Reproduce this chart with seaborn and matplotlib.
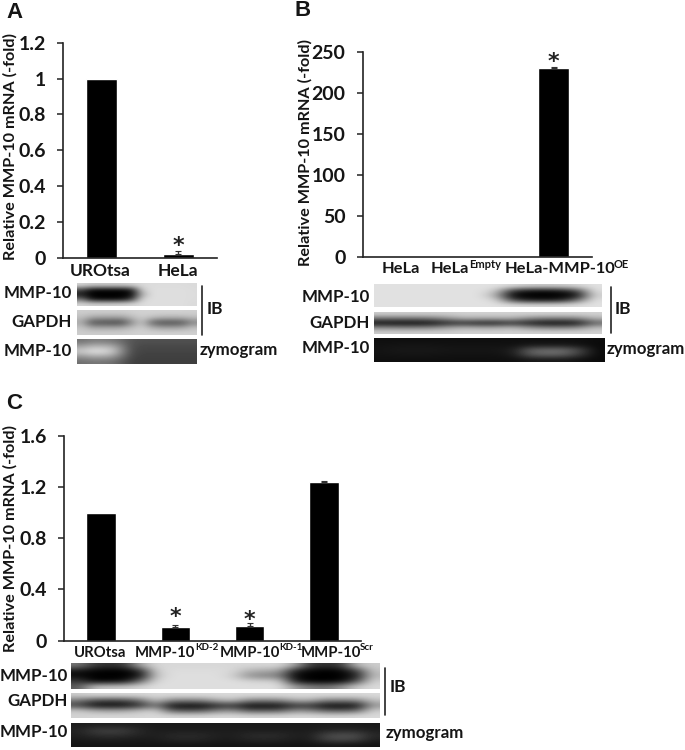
import matplotlib
matplotlib.use("Agg")
import matplotlib.pyplot as plt
import matplotlib.transforms as mtrans
import numpy as np
import seaborn as sns

# panel A
a_labels = ["UROtsa", "HeLa"]
a_values = [1.0, 0.02]
a_errors = [0.0, 0.02]
a_ticks = [0, 0.2, 0.4, 0.6, 0.8, 1, 1.2]
a_ticklabels = ["0", "0.2", "0.4", "0.6", "0.8", "1", "1.2"]

# panel B
b_labels = ["HeLa", "HeLa", "HeLa-MMP-10"]
b_supers = ["", "Empty", "OE"]
b_values = [0, 0, 230]
b_errors = [0, 0, 1.0]
b_ticks = [0, 50, 100, 150, 200, 250]

# panel C
c_labels = ["UROtsa", "MMP-10", "MMP-10", "MMP-10"]
c_supers = ["", "KD-2", "KD-1", "Scr"]
c_values = [1.0, 0.105, 0.115, 1.24]
c_errors = [0.0, 0.018, 0.022, 0.01]
c_ticks = [0, 0.4, 0.8, 1.2, 1.6]
c_ticklabels = ["0", "0.4", "0.8", "1.2", "1.6"]

# blot grey levels (rows top to bottom, 0 black, 255 white)
a_mmp = [[215, 205, 205, 205, 205, 210, 218, 220, 220, 220, 220, 218],
         [70, 10, 5, 5, 5, 30, 200, 222, 222, 222, 222, 220],
         [25, 0, 0, 0, 0, 10, 170, 222, 222, 222, 222, 220],
         [110, 15, 5, 5, 10, 60, 210, 222, 222, 222, 222, 220],
         [215, 210, 210, 210, 212, 215, 220, 222, 222, 222, 222, 218]]
a_gapdh = [[205, 205, 205, 205, 205, 208, 210, 210, 210, 210, 210, 208],
           [190, 165, 160, 160, 160, 185, 205, 190, 180, 180, 180, 190],
           [170, 80, 75, 70, 70, 140, 195, 100, 75, 75, 80, 130],
           [195, 165, 165, 165, 170, 190, 205, 175, 160, 160, 165, 190],
           [205, 205, 205, 205, 205, 208, 210, 210, 210, 210, 210, 208]]
a_zymo = [[115, 125, 125, 120, 105, 85, 80, 80, 80, 80, 80, 80],
          [165, 185, 185, 175, 130, 80, 72, 72, 72, 72, 72, 72],
          [205, 225, 225, 205, 140, 78, 68, 68, 68, 68, 68, 68],
          [150, 165, 165, 155, 115, 72, 64, 64, 64, 64, 64, 64],
          [110, 115, 115, 110, 90, 65, 62, 62, 62, 62, 62, 62]]

b_mmp = [[225, 225, 225, 225, 225, 225, 225, 225, 218, 205, 205, 205, 215, 225],
         [225, 225, 225, 225, 225, 225, 225, 200, 50, 15, 10, 20, 70, 222],
         [225, 225, 225, 225, 225, 225, 225, 170, 5, 0, 0, 0, 15, 210],
         [225, 225, 225, 225, 225, 225, 225, 215, 70, 25, 20, 30, 110, 225],
         [225, 225, 225, 225, 225, 225, 225, 225, 222, 218, 218, 218, 222, 225]]
b_gapdh = [[205, 205, 205, 205, 205, 210, 210, 210, 210, 210, 210, 210, 210, 210],
           [110, 110, 110, 115, 140, 170, 165, 165, 170, 135, 120, 120, 125, 175],
           [15, 10, 10, 15, 40, 45, 30, 30, 50, 30, 12, 12, 20, 100],
           [130, 125, 125, 130, 155, 175, 165, 165, 180, 145, 125, 125, 135, 185],
           [205, 205, 205, 205, 205, 210, 210, 210, 210, 210, 210, 210, 210, 210]]
b_zymo = [[15, 15, 15, 15, 15, 15, 15, 15, 15, 15, 15, 15, 15, 12],
          [18, 20, 20, 20, 18, 18, 18, 18, 18, 25, 25, 25, 20, 10],
          [20, 24, 24, 24, 22, 22, 22, 22, 32, 100, 110, 110, 70, 10],
          [18, 20, 20, 20, 18, 18, 18, 18, 28, 90, 100, 95, 55, 10],
          [15, 15, 15, 15, 15, 15, 15, 15, 15, 22, 22, 22, 15, 10]]

c_mmp = [[120, 60, 50, 60, 170, 215, 215, 215, 215, 215, 215, 215, 215, 215, 170, 60, 50, 60, 190, 205],
         [20, 5, 0, 0, 40, 205, 220, 220, 220, 220, 215, 180, 170, 160, 30, 5, 0, 5, 60, 195],
         [10, 0, 0, 0, 20, 195, 222, 222, 222, 222, 205, 145, 130, 120, 10, 0, 0, 0, 30, 185],
         [60, 5, 5, 15, 110, 215, 222, 222, 222, 222, 222, 215, 210, 205, 30, 0, 0, 5, 80, 210],
         [90, 195, 200, 205, 215, 222, 222, 222, 222, 222, 222, 222, 222, 222, 160, 130, 120, 150, 205, 218]]
c_gapdh = [[205, 215, 215, 215, 215, 218, 218, 218, 218, 218, 218, 218, 218, 218, 218, 218, 218, 218, 218, 218],
           [120, 75, 65, 70, 110, 190, 130, 125, 130, 170, 185, 130, 125, 130, 170, 170, 125, 125, 130, 190],
           [70, 15, 10, 15, 50, 120, 15, 10, 10, 40, 50, 10, 10, 15, 50, 50, 10, 10, 15, 150],
           [200, 170, 160, 165, 190, 205, 90, 80, 85, 130, 140, 85, 85, 90, 140, 130, 90, 85, 100, 205],
           [210, 215, 215, 215, 215, 218, 215, 215, 215, 218, 218, 215, 215, 215, 218, 218, 215, 215, 218, 218]]
c_zymo = [[28, 30, 30, 30, 28, 25, 25, 25, 25, 25, 25, 25, 25, 25, 25, 25, 28, 28, 25, 25],
          [35, 60, 65, 60, 38, 28, 28, 28, 28, 28, 28, 28, 28, 28, 28, 28, 35, 38, 38, 30],
          [32, 45, 50, 45, 35, 30, 40, 42, 40, 32, 30, 42, 44, 42, 32, 32, 70, 80, 75, 40],
          [25, 28, 30, 28, 25, 28, 35, 38, 35, 28, 28, 35, 38, 35, 28, 30, 65, 72, 65, 32],
          [20, 20, 20, 20, 20, 20, 20, 20, 20, 20, 20, 20, 20, 20, 20, 20, 22, 22, 20, 20]]

W, H = 685, 750
FAMILY = "Lato"
INK = "#151515"

sns.set_theme(style="white")
plt.rcParams["font.family"] = [FAMILY, "DejaVu Sans"]
plt.rcParams["font.weight"] = "bold"
plt.rcParams["text.color"] = INK
plt.rcParams["xtick.color"] = INK
plt.rcParams["ytick.color"] = INK

fig = plt.figure(figsize=(W / 100, H / 100), dpi=100, facecolor="white")


def px_axes(left, top, right, bottom):
    return fig.add_axes([left / W, 1 - bottom / H, (right - left) / W, (bottom - top) / H])


def px_text(x, y, s, **kw):
    kw.setdefault("va", "center")
    fig.text(x / W, 1 - y / H, s, **kw)


def bar_panel(box, labels, values, errors, ymax, ticks, ticklabels, shifts, star_gaps, ylab_x, ylab_y, lab_size=12.5):
    ax = px_axes(*box)
    xs = list(range(len(values)))
    sns.barplot(x=xs, y=values, color="black", width=0.4, saturation=1, ax=ax)
    # only the bars with a visible error get a whisker
    err_x = [x for x in xs if errors[x] > 0]
    ax.errorbar(err_x, [values[x] for x in err_x], yerr=[[0] * len(err_x), [errors[x] for x in err_x]],
                fmt="none", ecolor="#333333", elinewidth=1, capsize=2.5, capthick=0.8, zorder=1)
    ax.set_xlim(-0.5, len(values) - 0.5)
    ax.set_ylim(0, ymax)
    ax.set_yticks(ticks)
    ax.set_yticklabels(ticklabels, fontsize=14, fontweight="bold")
    ax.set_xticks(xs)
    ax.set_xticklabels(labels, fontsize=lab_size, fontweight="bold")
    ax.tick_params(axis="y", length=4.3, width=1.1, left=True, pad=8, color="#222222")
    ax.tick_params(axis="x", length=0, pad=3.5)
    for lab, dx in zip(ax.get_xticklabels(), shifts):
        lab.set_transform(lab.get_transform() + mtrans.ScaledTranslation(dx / 100, 0, fig.dpi_scale_trans))
    sns.despine(ax=ax)
    for side in ["left", "bottom"]:
        ax.spines[side].set_linewidth(1.2)
        ax.spines[side].set_color("#222222")
    for i, gap in star_gaps.items():
        ax.annotate("*", (i, values[i] + errors[i]), xytext=(0, gap), textcoords="offset points",
                    ha="center", va="center", fontsize=16, fontweight="bold", fontfamily="DejaVu Sans",
                    color="#222222")
    px_text(ylab_x, ylab_y, "Relative MMP-10 mRNA (-fold)", rotation=90, ha="center", fontsize=11.7)
    return ax


def blot(box, grey):
    ax = px_axes(*box)
    ax.imshow(np.array(grey), cmap="gray", vmin=0, vmax=255, aspect="auto", interpolation="bicubic")
    ax.axis("off")


def side_line(x, y0, y1):
    fig.add_artist(plt.Line2D([x / W, x / W], [1 - y0 / H, 1 - y1 / H], color="#222222", lw=1.2))


def blot_labels(x, ys):
    for y, s in zip(ys, ["MMP-10", "GAPDH", "MMP-10"]):
        px_text(x, y, s, ha="right", fontsize=12.2)


# A
bar_panel((62.7, 42.7, 217, 257.7), a_labels, a_values, a_errors, 1.2, a_ticks, a_ticklabels,
          [-1, 0], {1: 3.5}, 10, 146)
blot((77, 283, 197, 306), a_mmp)
blot((77, 310, 197, 335), a_gapdh)
blot((77, 339, 197, 364), a_zymo)
side_line(202, 286, 335)
blot_labels(72, [293, 322, 351])
px_text(207, 309, "IB", fontsize=12.5)
px_text(200, 350, "zymogram", fontsize=12.2)
px_text(6, 13, "A", fontsize=16, fontfamily="Liberation Sans")

# B
bar_panel((362.7, 51.7, 591.7, 256.7), b_labels, b_values, b_errors, 250, b_ticks, [str(t) for t in b_ticks],
          [0, -27, 6], {2: 3.5}, 305.5, 152, lab_size=11.8)
px_text(469, 264, b_supers[1], fontsize=8)
px_text(613.5, 265, b_supers[2], fontsize=8)
blot((374, 284, 602, 307), b_mmp)
blot((374, 312, 602, 334), b_gapdh)
blot((374, 338, 604, 362), b_zymo)
side_line(610.7, 287, 333)
blot_labels(370, [297, 323, 348])
px_text(615, 309, "IB", fontsize=12.5)
px_text(607, 349, "zymogram", fontsize=12.2)
px_text(295, 11, "B", fontsize=16, fontfamily="Liberation Sans")

# C
bar_panel((64, 435.7, 361, 640.7), c_labels, c_values, c_errors, 1.6, c_ticks, c_ticklabels,
          [-1, -10, 0, 7.5], {1: 5.5, 2: 2.5}, 10.5, 539, lab_size=10.7)
px_text(195, 648, c_supers[1], fontsize=7)
px_text(279, 648, c_supers[2], fontsize=7)
px_text(360, 648, c_supers[3], fontsize=7)
blot((71, 663, 380, 689), c_mmp)
blot((71, 693, 380, 718), c_gapdh)
blot((71, 723, 380, 747), c_zymo)
side_line(385, 668, 715)
blot_labels(68, [676, 701, 732])
px_text(390, 687, "IB", fontsize=12.5)
px_text(386, 733, "zymogram", fontsize=12.2)
px_text(6, 404, "C", fontsize=16, fontfamily="Liberation Sans")

fig.savefig("out.png", dpi=100)
